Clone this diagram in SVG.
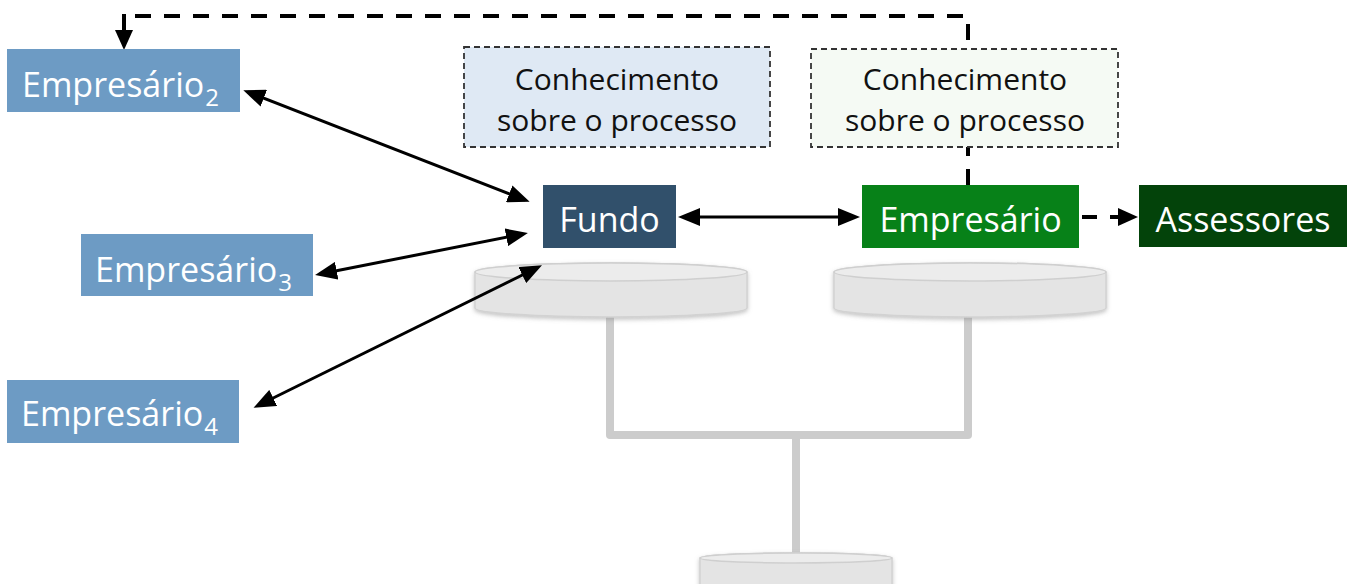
<svg xmlns="http://www.w3.org/2000/svg" width="1351" height="584" viewBox="0 0 1351 584">
<defs>
<style>
.lbl{font-family:"Open Sans","Liberation Sans",sans-serif;font-size:34px;fill:#ffffff}
.sub{font-size:24px}
.know{font-family:"Open Sans","Liberation Sans",sans-serif;font-size:30px;fill:#111111;text-anchor:middle}
.kbox{stroke:#333333;stroke-width:1.8;stroke-dasharray:6 4}
.conn{fill:none;stroke:#000000;stroke-width:3}
.dash{fill:none;stroke:#000000;stroke-width:4;stroke-dasharray:16 13}
.tree{fill:none;stroke:#cccccc;stroke-width:8;stroke-linejoin:round}
.cylbody{fill:#e4e4e4;stroke:#d2d2d2;stroke-width:1.5}
.cyltop{fill:#ececec;stroke:#cfcfcf;stroke-width:1.5}
</style>
<marker id="ah" viewBox="0 0 22 18" refX="17" refY="9" markerWidth="22" markerHeight="18" markerUnits="userSpaceOnUse" orient="auto-start-reverse">
<path d="M0 0 L22 9 L0 18 Z" fill="#000000"/>
</marker>
<marker id="ahd" viewBox="0 0 20 18" refX="15" refY="9" markerWidth="20" markerHeight="18" markerUnits="userSpaceOnUse" orient="auto-start-reverse">
<path d="M0 0 L20 9 L0 18 Z" fill="#000000"/>
</marker>
<filter id="sh" x="-10%" y="-30%" width="120%" height="180%">
<feDropShadow dx="0" dy="2" stdDeviation="2" flood-color="#888888" flood-opacity="0.5"/>
</filter>
</defs>

<g id="tree">
<path class="tree" d="M610 316 V435 H968 V316"/>
<path class="tree" d="M796 435 V556"/>
</g>

<g id="cyl-fundo" filter="url(#sh)">
<path class="cylbody" d="M475 272 A136 9 0 0 1 747 272 V308 A136 9 0 0 1 475 308 Z"/>
<ellipse class="cyltop" cx="611" cy="272" rx="136" ry="9"/>
</g>
<g id="cyl-empresario" filter="url(#sh)">
<path class="cylbody" d="M834 272 A136 9 0 0 1 1106 272 V308 A136 9 0 0 1 834 308 Z"/>
<ellipse class="cyltop" cx="970" cy="272" rx="136" ry="9"/>
</g>
<g id="cyl-base" filter="url(#sh)">
<path class="cylbody" d="M700 558 A96 5 0 0 1 892 558 V590 H700 Z"/>
<ellipse class="cyltop" cx="796" cy="558" rx="96" ry="5"/>
</g>

<g id="connectors">
<path class="dash" d="M968 185 V16 H124"/>
<path class="conn" style="stroke-width:4" d="M124 14 V45" marker-end="url(#ahd)"/>
<path class="conn" d="M248 92 L525 200" marker-start="url(#ah)" marker-end="url(#ah)"/>
<path class="conn" d="M320 274 L523 234" marker-start="url(#ah)" marker-end="url(#ah)"/>
<path class="conn" d="M258 405.5 L537.5 267.5" marker-start="url(#ah)" marker-end="url(#ah)"/>
<path class="conn" d="M683 217 H855" marker-start="url(#ah)" marker-end="url(#ah)"/>
<path class="conn" style="stroke-width:4;stroke-dasharray:15 13 30" d="M1082 217 H1133" marker-end="url(#ahd)"/>
</g>

<g id="know-fundo">
<rect class="kbox" x="464" y="47" width="306" height="100" fill="#dfe9f4"/>
<text class="know" x="617" y="90">Conhecimento</text>
<text class="know" x="617" y="131">sobre o processo</text>
</g>
<g id="know-empresario">
<rect class="kbox" x="811" y="49" width="307" height="98" fill="#f5faf4"/>
<text class="know" x="965" y="90">Conhecimento</text>
<text class="know" x="965" y="131">sobre o processo</text>
</g>

<g id="empresario2">
<rect x="7" y="49" width="233" height="63" fill="#6d9bc4"/>
<text class="lbl" x="22" y="97">Empresário<tspan class="sub" dx="1" dy="9">2</tspan></text>
</g>
<g id="empresario3">
<rect x="81" y="234" width="232" height="62" fill="#6d9bc4"/>
<text class="lbl" x="95" y="282">Empresário<tspan class="sub" dx="1" dy="9">3</tspan></text>
</g>
<g id="empresario4">
<rect x="7" y="380" width="232" height="63" fill="#6d9bc4"/>
<text class="lbl" x="21" y="426">Empresário<tspan class="sub" dx="1" dy="9">4</tspan></text>
</g>
<g id="fundo">
<rect x="543" y="185" width="133" height="63" fill="#31506b"/>
<text class="lbl" x="609.5" y="232" text-anchor="middle">Fundo</text>
</g>
<g id="empresario">
<rect x="862" y="185" width="217" height="63" fill="#078118"/>
<text class="lbl" x="970.5" y="232" text-anchor="middle">Empresário</text>
</g>
<g id="assessores">
<rect x="1139" y="185" width="208" height="62" fill="#03430a"/>
<text class="lbl" x="1243" y="232" text-anchor="middle">Assessores</text>
</g>
</svg>
